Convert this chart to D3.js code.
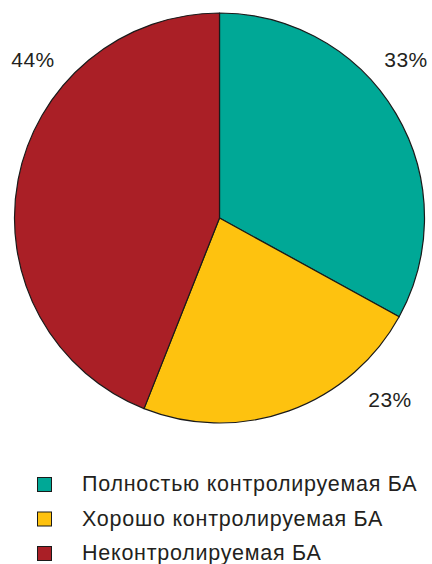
<!DOCTYPE html>
<html>
<head>
<meta charset="utf-8">
<script src="https://cdn.jsdelivr.net/npm/d3@7"></script>
<style>
  html, body { margin: 0; padding: 0; background: #fff; }
  svg { display: block; }
  text { font-family: "Liberation Sans", Arial, sans-serif; fill: #231f20; }
</style>
</head>
<body>
<svg id="chart" width="432" height="564"></svg>
<script>
// Asthma control categories and their shares (%)
const categories = ["Полностью контролируемая БА", "Хорошо контролируемая БА", "Неконтролируемая БА"];
const values = [33, 23, 44];
const colors = ["#00a896", "#fec20f", "#aa1f26"];
const valueLabels = values.map(v => v + "%");

const svg = d3.select("#chart");
const cx = 219.5, cy = 218, radius = 205;

const pie = d3.pie().sort(null).value(d => d.value);
const arc = d3.arc().innerRadius(0).outerRadius(radius);
const data = categories.map((c, i) => ({ name: c, value: values[i], color: colors[i], label: valueLabels[i] }));
const arcs = pie(data);

const g = svg.append("g").attr("transform", `translate(${cx},${cy})`);
g.selectAll("path")
  .data(arcs)
  .join("path")
  .attr("d", arc)
  .attr("fill", d => d.data.color)
  .attr("stroke", "#1a1a1a")
  .attr("stroke-width", 1.2)
  .attr("stroke-linejoin", "round");

// Percentage labels placed outside the pie
const labelPos = [
  { x: 406, y: 67 },
  { x: 390, y: 407 },
  { x: 33, y: 67 }
];
svg.selectAll("text.pct")
  .data(arcs)
  .join("text")
  .attr("class", "pct")
  .attr("x", (d, i) => labelPos[i].x)
  .attr("y", (d, i) => labelPos[i].y)
  .attr("text-anchor", "middle")
  .attr("font-size", 21)
  .attr("letter-spacing", 0.5)
  .text(d => d.data.label);

// Legend
const legend = svg.append("g").attr("transform", "translate(37,477)");
const rows = legend.selectAll("g")
  .data(data)
  .join("g")
  .attr("transform", (d, i) => `translate(0,${i * 34.5})`);
rows.append("rect")
  .attr("x", 0.5).attr("y", 0.5)
  .attr("width", 14).attr("height", 14)
  .attr("fill", d => d.color)
  .attr("stroke", "#1a1a1a")
  .attr("stroke-width", 1);
rows.append("text")
  .attr("x", 45)
  .attr("y", 14)
  .attr("font-size", 21.5)
  .attr("letter-spacing", 0.75)
  .text(d => d.name);
</script>
</body>
</html>
